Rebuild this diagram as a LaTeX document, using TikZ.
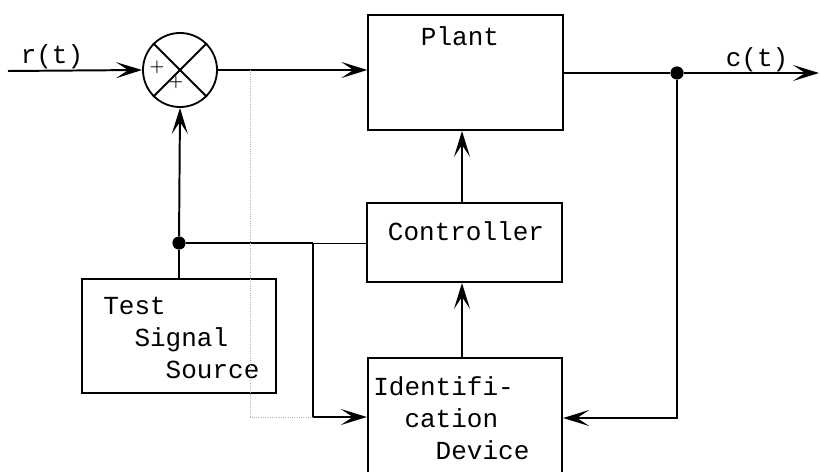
\documentclass[tikz,border=0pt]{standalone}
\usepackage{fontspec}
\setmonofont{Liberation Mono}
\usetikzlibrary{arrows.meta,calc,positioning}

\begin{document}
\begin{tikzpicture}[x=0.025cm,y=-0.025cm,
  arr/.style={-{Stealth[length=6.5mm,width=4mm,inset=3mm]}},
  block/.style={draw,line width=1.3pt,minimum width=4.86cm,inner sep=0pt},
  sig/.style={line width=1.4pt},
  lbl/.style={font=\ttfamily\fontsize{18.5}{22.8}\selectfont,inner sep=0pt},
  dot/.style={circle,fill,inner sep=0pt,minimum size=3.3mm}]
  \useasboundingbox (0,0) rectangle (820,472);
  \clip (0,0) rectangle (820,472);
  % blocks
  \node[block,minimum height=2.875cm] (plant) at (465.5,72.5) {};
  \node[block,minimum height=1.975cm] (ctrl) at (464.5,242.5) {};
  \node[block,minimum height=3.3cm] (ident) at (465,424) {};
  \node[block,minimum width=4.85cm,minimum height=2.85cm] (test) at (179,336) {};
  \node[draw,circle,line width=1.3pt,minimum size=1.85cm,inner sep=0pt] (sum) at (180,70) {};
  \draw[line width=1.3pt] (sum.north west) -- (sum.south east);
  \draw[line width=1.3pt] (sum.north east) -- (sum.south west);
  \node[font=\large\bfseries,inner sep=0pt] (plusa) at (157,67) {+};
  \node[font=\large\bfseries,inner sep=0pt] (plusb) at (176,82) {+};
  % texts
  \node[lbl] (plantlbl) at (460,36) {Plant};
  \node[lbl] (ctrllbl) at (466,231) {Controller};
  \node[lbl,align=left,anchor=north west] (testlbl) at (103,297)
    {Test\\\hphantom{xx}Signal\\\hphantom{xxxx}Source};
  \node[lbl,align=left,anchor=north west] (identlbl) at (373,376)
    {Identifi-\\\hphantom{xx}cation\\\hphantom{xxxx}Device};
  \node[lbl] (rlbl) at (52,57) {r(t)};
  \node[lbl] (clbl) at (757,60) {c(t)};
  % signal paths
  \coordinate (rin) at (8,71);
  \draw[sig,arr] (rin) -- (sum.west);
  \draw[sig,arr] (sum.east) -- (sum.east -| plant.west);
  \node[dot] (tap) at (677,73) {};
  \coordinate (cout) at (819,73);
  \draw[sig] (plant.east |- tap) -- (tap);
  \draw[sig,arr] (tap) -- (cout);
  \coordinate (fb) at (677,418);
  \draw[sig,arr] (tap) -- (fb) -- (fb -| ident.east);
  \coordinate (up) at (462,0);
  \draw[sig,arr] (up |- ctrl.north) -- (up |- plant.south);
  \draw[sig,arr] (up |- ident.north) -- (up |- ctrl.south);
  % test signal
  \node[dot] (split) at (179,243) {};
  \draw[sig] (test.north) -- (split);
  \draw[sig,arr] (split) -- (sum.south);
  \coordinate (jn) at (313,243);
  \coordinate (jd) at (313,417);
  \draw[sig] (split) -- (jn);
  \draw[line width=0.7pt] (jn) -- (jn -| ctrl.west);
  \draw[sig,arr] (jn) -- (jd) -- (jd -| ident.west);
  \coordinate (pick) at (250,70);
  \draw[gray!60,densely dotted,line width=0.6pt] (pick) -- (pick |- jd) -- (jd);
\end{tikzpicture}
\end{document}
